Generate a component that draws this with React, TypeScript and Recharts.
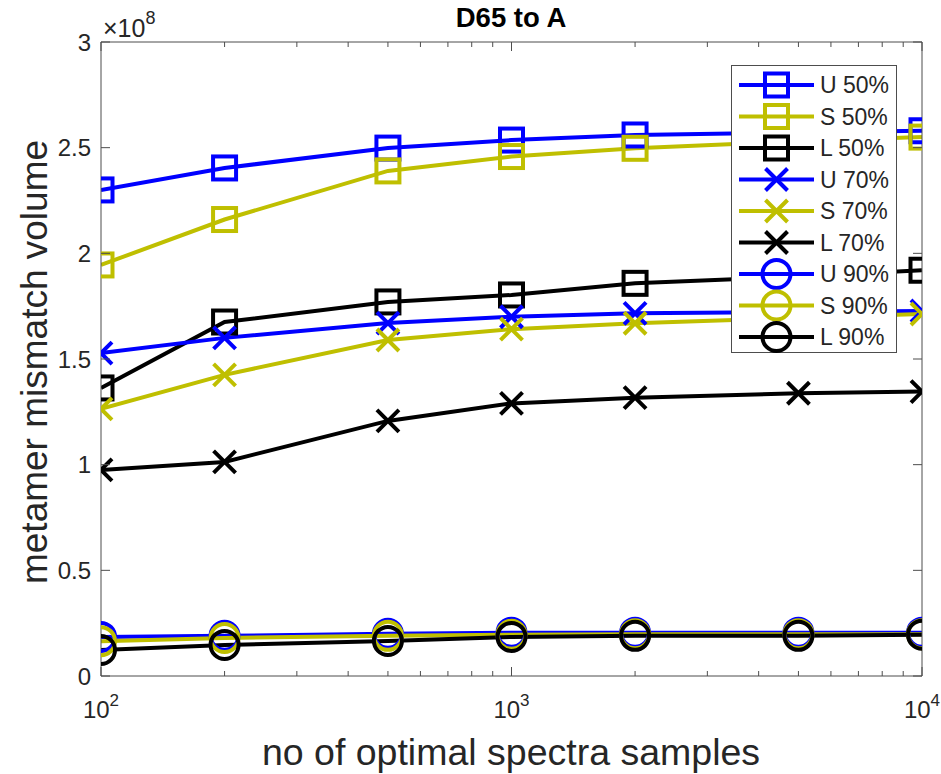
import { LineChart, Line, XAxis, YAxis, Legend } from "recharts";

// number of optimal spectra samples
const SAMPLES = [100, 200, 500, 1000, 2000, 5000, 10000];

// metamer mismatch volume, in units of 1e8
const U50 = [2.3, 2.404, 2.498, 2.536, 2.56, 2.572, 2.58];
const S50 = [1.945, 2.16, 2.39, 2.458, 2.497, 2.53, 2.55];
const L50 = [1.363, 1.675, 1.77, 1.803, 1.858, 1.89, 1.92];
const U70 = [1.528, 1.6, 1.67, 1.7, 1.716, 1.722, 1.727];
const S70 = [1.264, 1.425, 1.59, 1.641, 1.669, 1.695, 1.713];
const L70 = [0.975, 1.013, 1.207, 1.29, 1.317, 1.338, 1.346];
const U90 = [0.185, 0.19, 0.2, 0.205, 0.205, 0.205, 0.205];
const S90 = [0.165, 0.18, 0.19, 0.195, 0.197, 0.198, 0.198];
const L90 = [0.123, 0.147, 0.166, 0.185, 0.19, 0.19, 0.195];

const Y_TICKS = [0, 0.5, 1, 1.5, 2, 2.5, 3];
const X_TICKS = [
  100, 200, 300, 400, 500, 600, 700, 800, 900,
  1000, 2000, 3000, 4000, 5000, 6000, 7000, 8000, 9000, 10000,
];

const BLUE = "#0000ff";
const YELLOW = "#bfbf00";
const BLACK = "#000000";
const AXIS = "#4d4d4d";
const TEXT = "#262626";
const FONT = "'Liberation Sans', Arial, sans-serif";

type Shape = "square" | "x" | "circle";

const SERIES: { key: string; name: string; color: string; shape: Shape; values: number[] }[] = [
  { key: "U50", name: "U 50%", color: BLUE, shape: "square", values: U50 },
  { key: "S50", name: "S 50%", color: YELLOW, shape: "square", values: S50 },
  { key: "L50", name: "L 50%", color: BLACK, shape: "square", values: L50 },
  { key: "U70", name: "U 70%", color: BLUE, shape: "x", values: U70 },
  { key: "S70", name: "S 70%", color: YELLOW, shape: "x", values: S70 },
  { key: "L70", name: "L 70%", color: BLACK, shape: "x", values: L70 },
  { key: "U90", name: "U 90%", color: BLUE, shape: "circle", values: U90 },
  { key: "S90", name: "S 90%", color: YELLOW, shape: "circle", values: S90 },
  { key: "L90", name: "L 90%", color: BLACK, shape: "circle", values: L90 },
];

const data = SAMPLES.map((x, i) => {
  const row: Record<string, number> = { x };
  SERIES.forEach((s) => (row[s.key] = s.values[i]));
  return row;
});

const LW = 4;

function Marker({ cx, cy, shape, color }: { cx?: number; cy?: number; shape: Shape; color: string }) {
  if (cx == null || cy == null) return null;
  if (shape === "square")
    return <rect x={cx - 11.5} y={cy - 11.5} width={23} height={23} fill="none" stroke={color} strokeWidth={LW} />;
  if (shape === "x")
    return (
      <path
        d={`M${cx - 11},${cy - 11}L${cx + 11},${cy + 11}M${cx - 11},${cy + 11}L${cx + 11},${cy - 11}`}
        stroke={color}
        strokeWidth={LW}
        fill="none"
      />
    );
  return <circle cx={cx} cy={cy} r={14} fill="none" stroke={color} strokeWidth={LW} />;
}

const isMajor = (v: number) => Math.abs(Math.log10(v) - Math.round(Math.log10(v))) < 1e-9;

function BottomTick(props: any) {
  const { x, y, payload } = props;
  const v = payload.value as number;
  const major = isMajor(v);
  return (
    <g>
      <line x1={x} x2={x} y1={y} y2={y - (major ? 9 : 5)} stroke={AXIS} />
      {major && (
        <text x={x} y={y + 42} textAnchor="middle" fontSize={24} fill={TEXT} fontFamily={FONT}>
          10
          <tspan dy={-12} fontSize={17}>
            {Math.round(Math.log10(v))}
          </tspan>
        </text>
      )}
    </g>
  );
}

function TopTick(props: any) {
  const { x, y, payload } = props;
  const major = isMajor(payload.value);
  return <line x1={x} x2={x} y1={y} y2={y + (major ? 9 : 5)} stroke={AXIS} />;
}

function LeftTick(props: any) {
  const { x, y, payload } = props;
  return (
    <g>
      <line x1={x} x2={x + 9} y1={y} y2={y} stroke={AXIS} />
      <text x={x - 10} y={y + 8.5} textAnchor="end" fontSize={24} fill={TEXT} fontFamily={FONT}>
        {payload.value}
      </text>
    </g>
  );
}

function RightTick(props: any) {
  const { x, y } = props;
  return <line x1={x} x2={x - 9} y1={y} y2={y} stroke={AXIS} />;
}

function LegendBox() {
  const rowH = 31.5;
  return (
    <svg width={166} height={288} style={{ display: "block" }}>
      <rect x={0.5} y={0.5} width={165} height={287} fill="#ffffff" stroke={AXIS} strokeWidth={1} />
      {SERIES.map((s, i) => {
        const cy = 20 + i * rowH;
        return (
          <g key={s.key}>
            <line x1={8} x2={83} y1={cy} y2={cy} stroke={s.color} strokeWidth={LW} />
            <Marker cx={45.5} cy={cy} shape={s.shape} color={s.color} />
            <text x={89} y={cy + 8} fontSize={23} fill={TEXT} fontFamily={FONT}>
              {s.name}
            </text>
          </g>
        );
      })}
    </svg>
  );
}

export default function App() {
  return (
    <div style={{ position: "absolute", left: 0, top: 0, width: 941, height: 774, background: "#fff" }}>
      <LineChart
        width={941}
        height={774}
        data={data}
        margin={{ top: 12, right: 9, bottom: 48, left: 41 }}
      >
        <XAxis
          xAxisId="b"
          dataKey="x"
          type="number"
          scale="log"
          domain={[100, 10000]}
          ticks={X_TICKS}
          interval={0}
          allowDataOverflow
          orientation="bottom"
          height={50}
          tickSize={0}
          tickMargin={0}
          tickLine={false}
          tick={<BottomTick />}
          axisLine={{ stroke: AXIS }}
        />
        <XAxis
          xAxisId="t"
          dataKey="x"
          type="number"
          scale="log"
          domain={[100, 10000]}
          ticks={X_TICKS}
          interval={0}
          allowDataOverflow
          orientation="top"
          height={30}
          tickSize={0}
          tickMargin={0}
          tickLine={false}
          tick={<TopTick />}
          axisLine={{ stroke: AXIS }}
        />
        <YAxis
          yAxisId="l"
          type="number"
          domain={[0, 3]}
          ticks={Y_TICKS}
          interval={0}
          allowDataOverflow
          orientation="left"
          width={60}
          tickSize={0}
          tickMargin={0}
          tickLine={false}
          tick={<LeftTick />}
          axisLine={{ stroke: AXIS }}
        />
        <YAxis
          yAxisId="r"
          type="number"
          domain={[0, 3]}
          ticks={Y_TICKS}
          interval={0}
          allowDataOverflow
          orientation="right"
          width={10}
          tickSize={0}
          tickMargin={0}
          tickLine={false}
          tick={<RightTick />}
          axisLine={{ stroke: AXIS }}
        />
        {SERIES.map((s) => (
          <Line
            key={s.key}
            xAxisId="b"
            yAxisId="l"
            dataKey={s.key}
            name={s.name}
            type="linear"
            stroke={s.color}
            strokeWidth={LW}
            isAnimationActive={false}
            dot={(p: any) => (
              <Marker key={`${s.key}-${p.index}`} cx={p.cx} cy={p.cy} shape={s.shape} color={s.color} />
            )}
            activeDot={false}
          />
        ))}
        <Legend
          layout="vertical"
          align="center"
          verticalAlign="middle"
          content={() => <LegendBox />}
          wrapperStyle={{ left: 731, top: 65, width: 166, height: 288 }}
        />
      </LineChart>
      <svg
        width={941}
        height={774}
        style={{ position: "absolute", left: 0, top: 0, pointerEvents: "none" }}
        fontFamily={FONT}
      >
        <text x={511} y={27} textAnchor="middle" fontSize={27.5} fontWeight="bold" fill={BLACK}>
          D65 to A
        </text>
        <text x={103} y={37} fontSize={25} fill={TEXT}>
          ×10
          <tspan dy={-13} fontSize={18}>
            8
          </tspan>
        </text>
        <text x={511} y={765} textAnchor="middle" fontSize={37.5} fill={TEXT}>
          no of optimal spectra samples
        </text>
        <text transform="translate(47,362) rotate(-90)" textAnchor="middle" fontSize={37} fill={TEXT}>
          metamer mismatch volume
        </text>
      </svg>
    </div>
  );
}
